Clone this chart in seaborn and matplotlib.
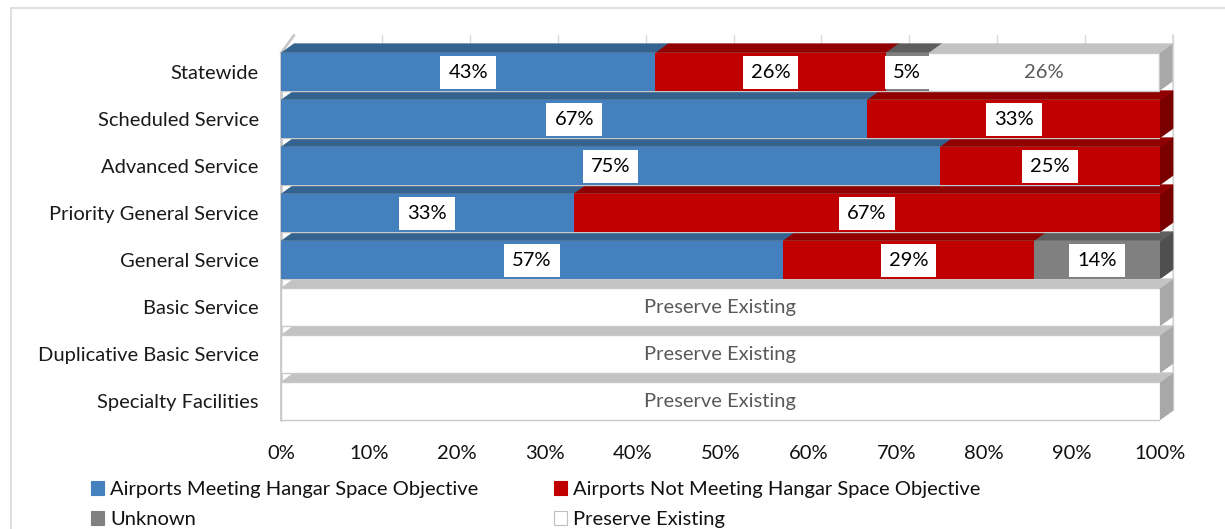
import numpy as np
import pandas as pd
import seaborn as sns
import matplotlib
matplotlib.use("Agg")
import matplotlib.pyplot as plt
from matplotlib.patches import Polygon, Patch, Rectangle

# ---------------- data ----------------
categories = ["Statewide", "Scheduled Service", "Advanced Service",
              "Priority General Service", "General Service", "Basic Service",
              "Duplicative Basic Service", "Specialty Facilities"]
meeting = [42.6, 66.7, 75.0, 33.3, 57.1, 0, 0, 0]
not_meeting = [26.2, 33.3, 25.0, 66.7, 28.6, 0, 0, 0]
unknown = [4.9, 0, 0, 0, 14.3, 0, 0, 0]
preserve = [26.2, 0, 0, 0, 0, 100, 100, 100]
meeting_labels = ["43%", "67%", "75%", "33%", "57%", "", "", ""]
not_meeting_labels = ["26%", "33%", "25%", "67%", "29%", "", "", ""]
unknown_labels = ["5%", "", "", "", "14%", "", "", ""]
preserve_labels = ["26%", "", "", "", "", "Preserve Existing",
                   "Preserve Existing", "Preserve Existing"]
series_names = ["Airports Meeting Hangar Space Objective",
                "Airports Not Meeting Hangar Space Objective",
                "Unknown", "Preserve Existing"]
x_ticks = [0, 10, 20, 30, 40, 50, 60, 70, 80, 90, 100]
x_tick_labels = [f"{t}%" for t in x_ticks]

# ---------------- style ----------------
sns.set_theme(style="white")
plt.rcParams["font.family"] = ["Lato", "DejaVu Sans"]
FS = 14.5

front = ["#4480BD", "#C00000", "#808080", "#FFFFFF"]
top_c = ["#35638F", "#900000", "#5E5E5E", "#C3C3C3"]
side_c = ["#2C5279", "#7A0000", "#4F4F4F", "#A8A8A8"]
edge_c = ["#4480BD", "#C00000", "#8C8C8C", "#C8C8C8"]
label_c = ["#000000", "#000000", "#000000", "#595959"]

fig = plt.figure(figsize=(12.25, 5.29), dpi=100)
W, H = 1225, 529
wall_top = -0.78
ylim_top = -0.8
ax_top_px = 72 + ylim_top * 47
ax_bot_px = 72 + 7.5 * 47
ax = fig.add_axes([281 / W, 1 - ax_bot_px / H, 879 / W, (ax_bot_px - ax_top_px) / H])

series = [meeting, not_meeting, unknown, preserve]
labels = [meeting_labels, not_meeting_labels, unknown_labels, preserve_labels]
vals = np.array(series, dtype=float)
cum = np.cumsum(vals, axis=0)
starts = cum - vals

dx = 1.48   # depth offset in x (data units)
dy = 0.20   # depth offset in y (category units)
bw = 0.8

# back wall gridlines & edges
for t in x_ticks[1:]:
    ax.plot([t + dx, t + dx], [wall_top, 7.4 - dy], color="#D9D9D9", lw=1,
            zorder=0.1, clip_on=False)
ax.plot([100 + dx, 100 + dx], [wall_top, 7.4 - dy], color="#D9D9D9", lw=1.2,
        zorder=0.1, clip_on=False)
ax.plot([0, 0], [-0.4, 7.4], color="#C8C8C8", lw=2, zorder=0.2, clip_on=False)
ax.plot([0, dx], [-0.4, wall_top], color="#C8C8C8", lw=2, zorder=0.2, clip_on=False)

# 3D depth faces computed from the data
n = len(categories)
for k in range(4):
    for i in range(n):
        v = vals[k, i]
        if v <= 0:
            continue
        x0, x1 = starts[k, i], cum[k, i]
        t, b = i - bw / 2, i + bw / 2
        topf = Polygon([(x0, t), (x1, t), (x1 + dx, t - dy), (x0 + dx, t - dy)],
                       closed=True, facecolor=top_c[k], edgecolor=top_c[k],
                       lw=0.5, zorder=0.6, clip_on=False)
        sidef = Polygon([(x1, t), (x1 + dx, t - dy), (x1 + dx, b - dy), (x1, b)],
                        closed=True, facecolor=side_c[k], edgecolor=side_c[k],
                        lw=0.5, zorder=0.5, clip_on=False)
        ax.add_patch(sidef)
        ax.add_patch(topf)

# front faces: stacked by overlaying cumulative bars (longest first)
for k in [3, 2, 1, 0]:
    sns.barplot(x=cum[k], y=categories, order=categories, orient="h",
                color=front[k], saturation=1, width=bw,
                edgecolor=edge_c[k] if k == 3 else "none",
                linewidth=1 if k == 3 else 0, ax=ax, zorder=1)

# data labels
for k in range(4):
    for i in range(n):
        lab = labels[k][i]
        if not lab:
            continue
        xc = starts[k, i] + vals[k, i] / 2
        ax.text(xc, i + 0.02, lab, ha="center", va="center", fontsize=FS,
                color=label_c[k], zorder=5,
                bbox=dict(boxstyle="square,pad=0.4", facecolor="white",
                          edgecolor="none") if k < 3 else None)

ax.set_xlim(0, 100)
ax.set_ylim(7.5, ylim_top)
ax.set_xticks(x_ticks)
ax.set_xticklabels(x_tick_labels)
ax.set_xlabel("")
ax.set_ylabel("")
for s in ax.spines.values():
    s.set_visible(False)
ax.tick_params(axis="x", length=0, pad=15, labelsize=FS, labelcolor="#111111")
ax.tick_params(axis="y", length=0, pad=16, labelsize=FS, labelcolor="#1a1a1a")
ax.grid(False)

# figure border (chart area frame)
fig.add_artist(Rectangle((11 / W, -0.2), 1.2, 1.2 - 8 / H, transform=fig.transFigure,
                         facecolor="none", edgecolor="#D9D9D9", lw=1.2))

# legend: two columns placed explicitly
handles = [Patch(facecolor=front[k], edgecolor=("#BFBFBF" if k == 3 else front[k]),
                 lw=0.8, label=series_names[k]) for k in range(4)]
common = dict(frameon=False, fontsize=FS, handlelength=0.65, handleheight=0.65,
              handletextpad=0.3, labelspacing=0.65, borderpad=0, borderaxespad=0,
              loc="upper left", labelcolor="#111111")
leg1 = fig.legend(handles=[handles[0], handles[2]], bbox_to_anchor=(91 / W, 1 - 481 / H),
                  **common)
leg2 = fig.legend(handles=[handles[1], handles[3]], bbox_to_anchor=(554 / W, 1 - 481 / H),
                  **common)

fig.savefig("out.png", dpi=100)
